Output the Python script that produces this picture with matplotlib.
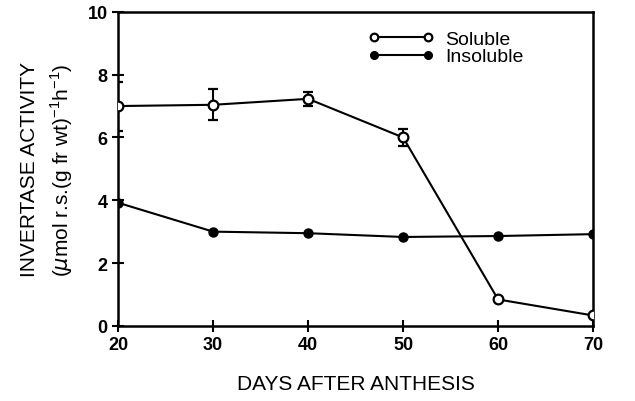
import matplotlib
matplotlib.use("Agg")
import matplotlib.pyplot as plt
from matplotlib.lines import Line2D

plt.rcParams['font.family'] = ['Liberation Sans', 'DejaVu Sans']
plt.rcParams['mathtext.fontset'] = 'custom'
plt.rcParams['mathtext.rm'] = 'Liberation Sans'

days = [20, 30, 40, 50, 60, 70]
soluble = [7.0, 7.04, 7.23, 6.0, 0.84, 0.33]
soluble_err = [0.78, 0.5, 0.23, 0.27, 0.0, 0.0]
insoluble = [3.92, 3.0, 2.95, 2.83, 2.86, 2.92]

fig = plt.figure(figsize=(6.35, 4.02), dpi=100)
ax = fig.add_axes([0.186, 0.187, 0.748, 0.781])

ax.errorbar(days, soluble, yerr=soluble_err, color='black', lw=1.5,
            marker='o', markersize=7, markerfacecolor='white', markeredgewidth=1.6,
            capsize=3.5, elinewidth=1.5, capthick=1.5, zorder=3)
ax.plot(days, insoluble, color='black', lw=1.5, marker='o', markersize=6.5, zorder=3)

ax.set_xlim(20, 70)
ax.set_ylim(0, 10)
ax.set_xticks(days)
ax.set_yticks([0, 2, 4, 6, 8, 10])
ax.tick_params(direction='inout', length=9, width=1.5, labelsize=13, pad=3)
for lab in ax.get_xticklabels() + ax.get_yticklabels():
    lab.set_fontweight('bold')
for s in ax.spines.values():
    s.set_linewidth(1.8)

ax.set_xlabel('DAYS AFTER ANTHESIS', fontsize=15, labelpad=15)
ax.set_ylabel('INVERTASE ACTIVITY\n($\\mu$mol r.s.(g fr wt)$^{-1}$h$^{-1}$)',
              fontsize=15, labelpad=9, linespacing=1.45)

handles = [
    Line2D([], [], color='black', lw=1.5, marker='o', markersize=5.5,
           markerfacecolor='white', markeredgewidth=1.6),
    Line2D([], [], color='black', lw=1.5, marker='o', markersize=5.5),
]
ax.legend(handles, ['Soluble', 'Insoluble'], loc='upper left',
          bbox_to_anchor=(0.497, 0.985), frameon=False, numpoints=2,
          handlelength=3.4, fontsize=14, labelspacing=0.0, handletextpad=0.6,
          borderaxespad=0.3)

fig.savefig('out.png', dpi=100)
